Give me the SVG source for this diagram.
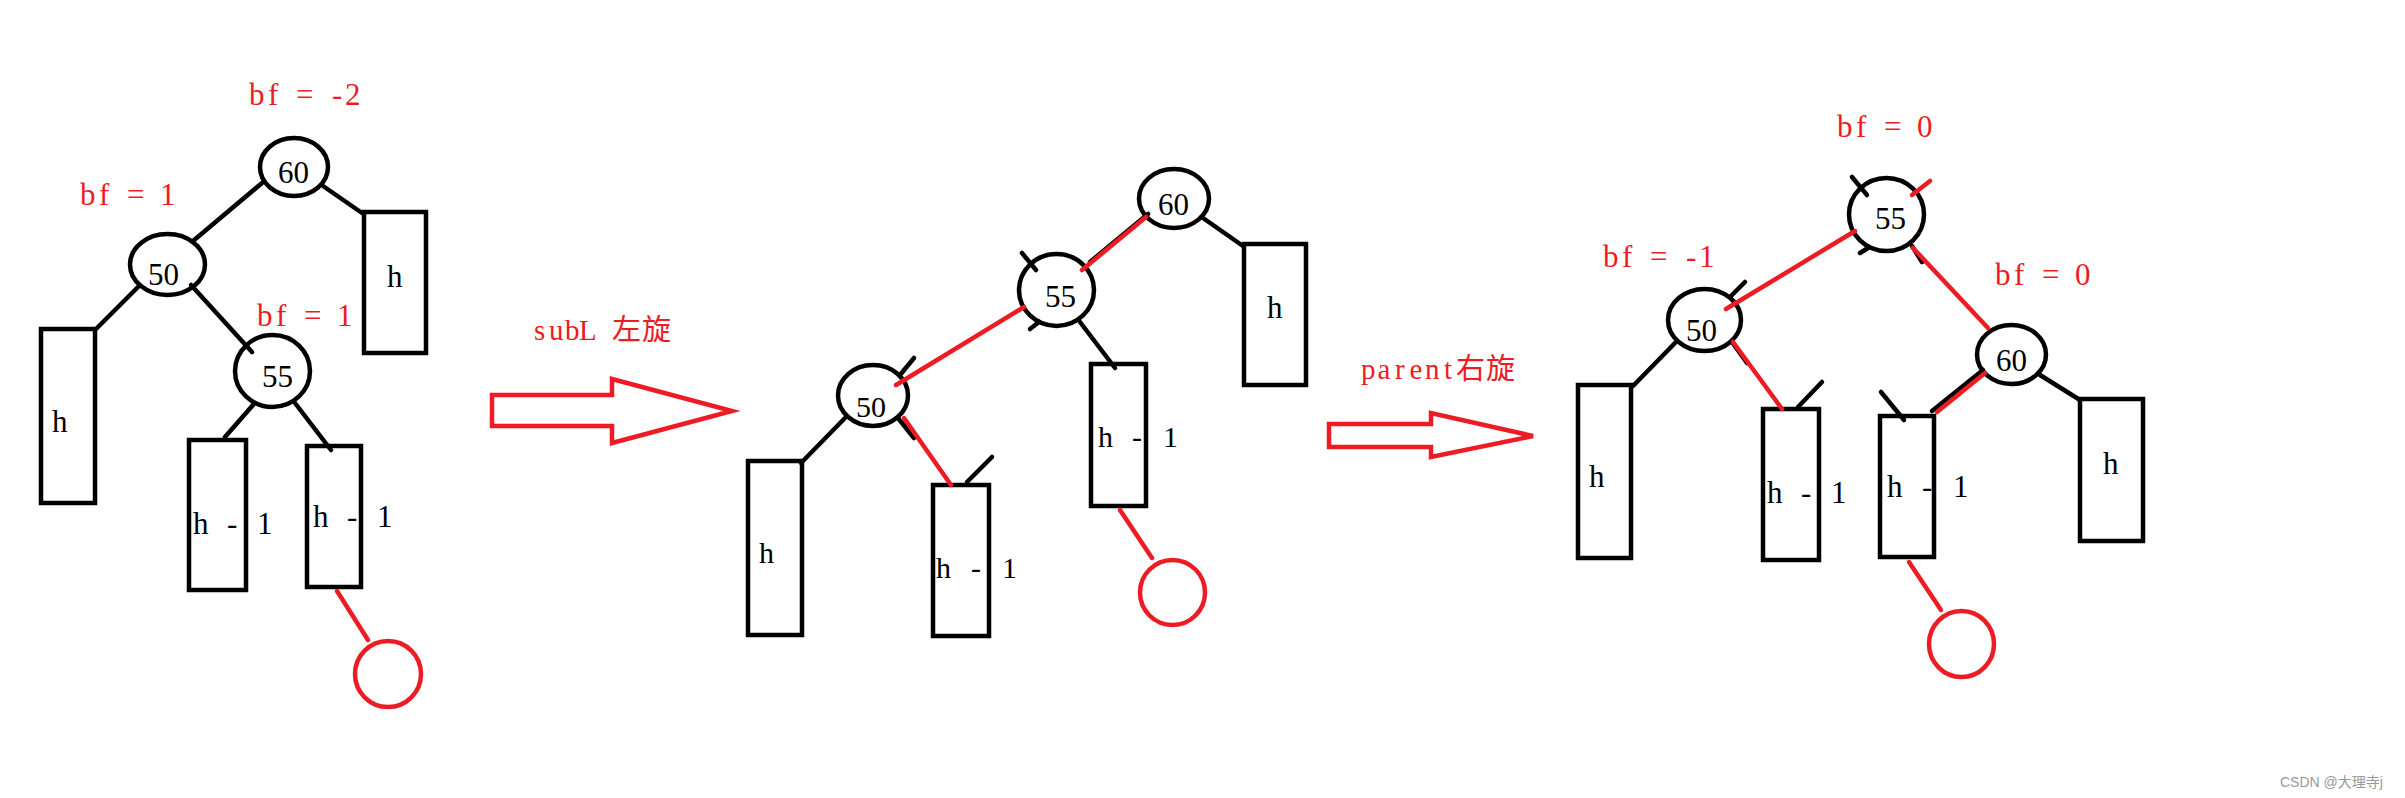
<svg xmlns="http://www.w3.org/2000/svg" width="2405" height="798" viewBox="0 0 2405 798">
<style>
.k{stroke:#000;stroke-width:4.5;fill:none;stroke-linecap:round}
.r{stroke:#ED1C24;stroke-width:4.5;fill:none;stroke-linecap:round}
.nd{stroke:#000;stroke-width:4.5;fill:none}
.nr{stroke:#ED1C24;stroke-width:4.5;fill:none}
.bx{stroke:#000;stroke-width:4.5;fill:none}
.ar{stroke:#ED1C24;stroke-width:4.5;fill:none;stroke-linejoin:miter}
.t{font-family:"Liberation Serif",serif;font-size:31px;fill:#000}
.tm{font-family:"Liberation Serif",serif;font-size:30px;fill:#000}
.bf{font-family:"Liberation Serif",serif;font-size:31px;fill:#ED1C24}
.cn{font-family:"Liberation Serif","Noto Sans CJK SC",sans-serif;font-size:29px;fill:#ED1C24}
.wm{font-family:"Liberation Sans","Noto Sans CJK SC",sans-serif;font-size:14px;fill:#999}
</style>
<rect width="2405" height="798" fill="#fff"/>

<!-- Tree 1 -->
<g id="t1-n60">
<ellipse class="nd" cx="294" cy="167" rx="34" ry="29"/>
<text class="t" x="278" y="183">60</text>
<text class="bf" x="249 268 281 296 313 332 345" y="105">bf = -2</text>
</g>
<g id="t1-n50">
<ellipse class="nd" cx="167.5" cy="264.5" rx="37.5" ry="30.5"/>
<text class="t" x="148" y="285">50</text>
<text class="bf" x="80 99 112 127 144 160" y="205">bf = 1</text>
</g>
<g id="t1-n55">
<ellipse class="nd" cx="272.5" cy="371" rx="37.5" ry="36"/>
<text class="t" x="262" y="387">55</text>
<text class="bf" x="257 276 289 304 321 337" y="326">bf = 1</text>
</g>
<g id="t1-hR">
<rect class="bx" x="364" y="212" width="62" height="141"/>
<text class="t" x="387" y="287">h</text>
</g>
<g id="t1-hL">
<rect class="bx" x="41" y="329" width="54" height="174"/>
<text class="t" x="52" y="432">h</text>
</g>
<g id="t1-s1">
<rect class="bx" x="189" y="440" width="57" height="150"/>
<text class="t" x="193 209 227 241 257" y="534">h - 1</text>
</g>
<g id="t1-s2">
<rect class="bx" x="307" y="446" width="54" height="141"/>
<text class="t" x="313 329 347 361 377" y="527">h - 1</text>
</g>
<g id="t1-new">
<ellipse class="nr" cx="388" cy="674" rx="33" ry="33"/>
</g>

<!-- Arrow 1 -->
<g id="arrow1">
<polygon class="ar" points="492,395 612,395 612,379 732,411 612,443 612,426 492,426"/>
<text class="cn" x="534 549 565 579 596 612 642" y="340">subL 左旋</text>
</g>

<!-- Tree 2 -->
<g id="t2-n60">
<ellipse class="nd" cx="1174" cy="198.5" rx="35" ry="29.5"/>
<text class="t" x="1158" y="215">60</text>
</g>
<g id="t2-n55">
<ellipse class="nd" cx="1056.5" cy="290" rx="37.5" ry="36"/>
<text class="t" x="1045" y="307">55</text>
</g>
<g id="t2-n50">
<ellipse class="nd" cx="873" cy="395.5" rx="35" ry="30.5"/>
<text class="tm" x="856" y="417">50</text>
</g>
<g id="t2-hR">
<rect class="bx" x="1244" y="244" width="62" height="141"/>
<text class="t" x="1267" y="318">h</text>
</g>
<g id="t2-hL">
<rect class="bx" x="748" y="461" width="54" height="174"/>
<text class="tm" x="759" y="563">h</text>
</g>
<g id="t2-s1">
<rect class="bx" x="933" y="485" width="56" height="151"/>
<text class="tm" x="936 952.5 971 985.5 1002" y="578">h - 1</text>
</g>
<g id="t2-s2">
<rect class="bx" x="1091" y="364" width="55" height="142"/>
<text class="tm" x="1098 1114 1132 1147 1163" y="447">h - 1</text>
</g>
<g id="t2-new">
<ellipse class="nr" cx="1172.5" cy="592.5" rx="32.5" ry="32.5"/>
</g>

<!-- Arrow 2 -->
<g id="arrow2">
<polygon class="ar" points="1329,424 1431,424 1431,413 1533,436 1431,457 1431,447 1329,447"/>
<text class="cn" x="1361 1377.5 1395 1409.5 1425 1444 1456 1486" y="379">parent右旋</text>
</g>

<!-- Tree 3 -->
<g id="t3-n55">
<ellipse class="nd" cx="1886.5" cy="214.5" rx="37.5" ry="36.5"/>
<text class="t" x="1875" y="229">55</text>
<text class="bf" x="1837 1856 1869 1884 1901 1917" y="137">bf = 0</text>
</g>
<g id="t3-n50">
<ellipse class="nd" cx="1704.5" cy="320" rx="36.5" ry="31"/>
<text class="t" x="1686" y="341">50</text>
<text class="bf" x="1603 1622 1635 1650 1667 1686 1699" y="267">bf = -1</text>
</g>
<g id="t3-n60">
<ellipse class="nd" cx="2011.5" cy="354.5" rx="34.5" ry="29.5"/>
<text class="t" x="1996" y="371">60</text>
<text class="bf" x="1995 2014 2027 2042 2059 2075" y="285">bf = 0</text>
</g>
<g id="t3-hL">
<rect class="bx" x="1578" y="385" width="53" height="173"/>
<text class="t" x="1589" y="487">h</text>
</g>
<g id="t3-s1">
<rect class="bx" x="1763" y="409" width="56" height="151"/>
<text class="t" x="1767 1783 1801 1815 1831" y="503">h - 1</text>
</g>
<g id="t3-s2">
<rect class="bx" x="1880" y="416" width="54" height="141"/>
<text class="t" x="1887 1904 1922 1937 1953" y="497">h - 1</text>
</g>
<g id="t3-hR">
<rect class="bx" x="2080" y="399" width="63" height="142"/>
<text class="t" x="2103" y="474">h</text>
</g>
<g id="t3-new">
<ellipse class="nr" cx="1961.5" cy="644" rx="32.5" ry="33"/>
</g>

<!-- Connectors -->
<g id="connectors">
<!-- tree 1 -->
<line class="k" x1="262" y1="183" x2="193" y2="241"/>
<line class="k" x1="323" y1="186" x2="362" y2="213"/>
<line class="k" x1="139" y1="286" x2="95" y2="330"/>
<line class="k" x1="191" y1="285" x2="252" y2="352"/>
<line class="k" x1="253" y1="405" x2="225" y2="437"/>
<line class="k" x1="295" y1="403" x2="331" y2="450"/>
<line class="r" x1="337" y1="591" x2="368" y2="640"/>
<!-- tree 2 -->
<line class="k" x1="1203" y1="218" x2="1243" y2="246"/>
<line class="k" x1="1148" y1="214" x2="1090" y2="262"/>
<line class="r" x1="1146" y1="217" x2="1082" y2="270"/>
<line class="k" x1="1022" y1="253" x2="1036" y2="270"/>
<line class="k" x1="1030" y1="329" x2="1039" y2="322"/>
<line class="r" x1="1024" y1="307" x2="896" y2="385"/>
<line class="k" x1="900" y1="375" x2="914" y2="358"/>
<line class="k" x1="1080" y1="322" x2="1115" y2="368"/>
<line class="k" x1="845" y1="418" x2="801" y2="463"/>
<line class="k" x1="898" y1="418" x2="914" y2="438"/>
<line class="r" x1="904" y1="418" x2="951" y2="485"/>
<line class="k" x1="967" y1="482" x2="992" y2="457"/>
<line class="r" x1="1120" y1="510" x2="1152" y2="558"/>
<!-- tree 3 -->
<line class="k" x1="1852" y1="177" x2="1867" y2="195"/>
<line class="k" x1="1860" y1="253" x2="1868" y2="248"/>
<line class="r" x1="1912" y1="195" x2="1930" y2="181"/>
<line class="r" x1="1855" y1="231" x2="1726" y2="309"/>
<line class="k" x1="1730" y1="297" x2="1745" y2="282"/>
<line class="k" x1="1912" y1="246" x2="1922" y2="262"/>
<line class="r" x1="1913" y1="248" x2="1988" y2="328"/>
<line class="k" x1="1675" y1="343" x2="1633" y2="386"/>
<line class="k" x1="1732" y1="342" x2="1747" y2="363"/>
<line class="r" x1="1733" y1="342" x2="1782" y2="409"/>
<line class="k" x1="1798" y1="407" x2="1822" y2="382"/>
<line class="k" x1="1881" y1="392" x2="1904" y2="420"/>
<line class="k" x1="1983" y1="370" x2="1932" y2="411"/>
<line class="r" x1="1985" y1="373" x2="1937" y2="412"/>
<line class="k" x1="2040" y1="375" x2="2080" y2="400"/>
<line class="r" x1="1909" y1="562" x2="1941" y2="610"/>
</g>

<text class="wm" x="2280" y="787">CSDN @大理寺j</text>
</svg>
